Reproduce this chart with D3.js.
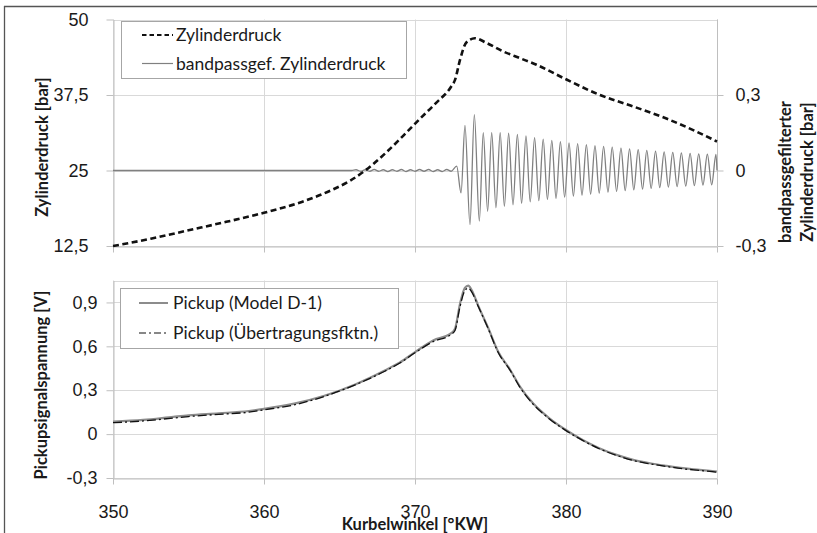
<!DOCTYPE html>
<html><head><meta charset="utf-8">
<script src="https://cdn.jsdelivr.net/npm/d3@7"></script>
<style>
body{margin:0;background:#fff;}
svg{font-family:Lato,"Open Sans",sans-serif;}
</style></head><body>
<svg id="c" width="817" height="533"></svg>
<script>
// ---------- data ----------
const xTicks = [350, 360, 370, 380, 390];
const topLeftTicks = [12.5, 25, 37.5, 50];
const topLeftLabels = ["12,5", "25", "37,5", "50"];
const topRightTicks = [-0.3, 0, 0.3];
const topRightLabels = ["-0,3", "0", "0,3"];
const botTicks = [-0.3, 0, 0.3, 0.6, 0.9];
const botLabels = ["-0,3", "0", "0,3", "0,6", "0,9"];

// Zylinderdruck [bar]
const pAngle = [350, 352.5, 355, 357.5, 360, 362.5, 364.6, 365.7, 366.7, 368.1, 369.2, 370.3, 371.4, 372.4, 372.65, 372.98, 373.4, 373.97, 374.75, 375.85, 376.95, 378.05, 380, 382.25, 384.45, 386.65, 388.5, 390];
const pValue = [12.5, 13.7, 15.1, 16.5, 18.0, 19.8, 21.9, 23.3, 25.0, 28.0, 30.7, 33.5, 36.2, 38.9, 40.0, 43.3, 46.2, 46.9, 46.1, 44.7, 43.6, 42.5, 40.1, 37.5, 35.6, 33.6, 31.6, 29.8];

// bandpassgef. Zylinderdruck [bar] (extremes of the oscillation)
const bpAngle = [350, 365.8, 366.1, 366.4, 366.7, 367.0, 367.3, 367.6, 367.9, 368.2, 368.5, 368.8, 369.1, 369.4, 369.7, 370.0, 370.3, 370.6, 370.9, 371.2, 371.5, 371.8, 372.1, 372.4, 372.76, 373.05,
  373.31, 373.64, 373.93, 374.26, 374.52, 374.81, 375.08, 375.36, 375.64, 375.92, 376.20, 376.49, 376.78, 377.06, 377.35, 377.63, 377.92, 378.20, 378.49, 378.77, 379.06, 379.34, 379.63, 379.91, 380.20, 380.49, 380.77, 381.06, 381.35, 381.63, 381.92, 382.20, 382.49, 382.78, 383.06, 383.35, 383.64, 383.92, 384.21, 384.49, 384.78, 385.07, 385.35, 385.64, 385.93, 386.21, 386.50, 386.78, 387.07, 387.36, 387.64, 387.93, 388.22, 388.50, 388.79, 389.07, 389.36, 389.65, 389.93, 390];
const bpValue = [0, 0, 0.003, -0.003, 0.003, -0.003, 0.004, -0.003, 0.003, -0.004, 0.003, -0.003, 0.004, -0.004, 0.003, -0.003, 0.004, -0.003, 0.004, -0.004, 0.003, -0.004, 0.004, -0.003, 0.017, -0.089,
  0.179, -0.215, 0.222, -0.201, 0.150, -0.162, 0.150, -0.148, 0.150, -0.142, 0.148, -0.136, 0.143, -0.130, 0.137, -0.125, 0.131, -0.120, 0.125, -0.115, 0.120, -0.111, 0.115, -0.106, 0.110, -0.102, 0.107, -0.098, 0.103, -0.094, 0.099, -0.090, 0.096, -0.086, 0.093, -0.083, 0.089, -0.080, 0.086, -0.077, 0.083, -0.074, 0.080, -0.071, 0.077, -0.068, 0.074, -0.066, 0.072, -0.064, 0.070, -0.062, 0.068, -0.060, 0.066, -0.058, 0.065, -0.057, 0.064, 0.0];

// Pickupsignalspannung [V]
const pkAngle = [350, 352, 354, 355, 357, 359, 360, 362, 364, 366, 368, 369, 370, 371.2, 372.4, 372.65, 372.98, 373.3, 373.53, 373.75, 374.2, 374.85, 375.5, 376.3, 376.95, 377.8, 378.9, 380, 381.1, 382.2, 383.35, 384.45, 385.55, 386.65, 387.75, 388.85, 390];
const pkModel = [0.085, 0.097, 0.118, 0.128, 0.142, 0.158, 0.172, 0.208, 0.262, 0.338, 0.435, 0.49, 0.56, 0.64, 0.69, 0.72, 0.89, 1.0, 1.015, 0.985, 0.875, 0.725, 0.565, 0.44, 0.325, 0.212, 0.108, 0.028, -0.04, -0.096, -0.142, -0.176, -0.199, -0.217, -0.233, -0.244, -0.256];
const pkTrans = [0.078, 0.09, 0.11, 0.12, 0.135, 0.15, 0.166, 0.2, 0.258, 0.335, 0.43, 0.486, 0.556, 0.632, 0.682, 0.708, 0.87, 0.98, 0.998, 0.972, 0.87, 0.72, 0.56, 0.436, 0.32, 0.207, 0.104, 0.024, -0.043, -0.1, -0.145, -0.18, -0.203, -0.221, -0.237, -0.248, -0.26];

// ---------- drawing ----------
const svg = d3.select("#c");
const gridC = "#d9d9d9", axisC = "#bfbfbf", textC = "#1a1a1a";
const tickFs = 18, legFs = 17.5, titleFs = 16.5;

// frame
svg.append("line").attr("x1",4.5).attr("x2",4.5).attr("y1",6).attr("y2",533).attr("stroke","#555").attr("stroke-width",1.3);
svg.append("line").attr("x1",4).attr("x2",817).attr("y1",6.5).attr("y2",6.5).attr("stroke","#555").attr("stroke-width",1.3);

const x = d3.scaleLinear().domain([350, 390]).range([113, 717]);
const yT = d3.scaleLinear().domain([12.5, 50]).range([246, 19.5]);
const yTR = d3.scaleLinear().domain([-0.3, 0.6]).range([246, 19.5]);
const yB = d3.scaleLinear().domain([-0.3, 1.05]).range([478, 280.5]);

function grid(yScale, ticks, yTop, yBot){
  const g = svg.append("g");
  ticks.forEach(t => g.append("line").attr("x1",113).attr("x2",717).attr("y1",Math.round(yScale(t))+0.5).attr("y2",Math.round(yScale(t))+0.5).attr("stroke",gridC));
  g.append("line").attr("x1",113).attr("x2",717).attr("y1",Math.round(yTop)+0.5).attr("y2",Math.round(yTop)+0.5).attr("stroke",gridC);
  xTicks.forEach(t => g.append("line").attr("x1",Math.round(x(t))+0.5).attr("x2",Math.round(x(t))+0.5).attr("y1",yTop).attr("y2",yBot).attr("stroke",gridC));
}
grid(yT, topLeftTicks, yT(50), yT(12.5));
grid(yB, botTicks, yB(1.05), yB(-0.3));

function styleAxis(g, fs){
  g.select(".domain").attr("stroke", axisC);
  g.selectAll(".tick line").attr("stroke", axisC);
  g.selectAll(".tick text").attr("fill", textC).style("font-size", fs+"px");
}

// top axes
const aTL = svg.append("g").attr("transform","translate(113.5,0)")
  .call(d3.axisLeft(yT).tickValues(topLeftTicks).tickFormat((d,i)=>topLeftLabels[i]).tickSize(7).tickPadding(18).tickSizeOuter(0));
styleAxis(aTL, tickFs);
const aTR = svg.append("g").attr("transform","translate(717.5,0)")
  .call(d3.axisRight(yTR).tickValues(topRightTicks).tickFormat((d,i)=>topRightLabels[i]).tickSize(6).tickPadding(12).tickSizeOuter(0));
styleAxis(aTR, tickFs);
aTR.select(".domain").attr("d", "M0," + yTR(0.6) + "V" + yTR(-0.3));
const aTB = svg.append("g").attr("transform","translate(0,246.5)")
  .call(d3.axisBottom(x).tickValues(xTicks).tickFormat("").tickSize(6).tickSizeOuter(0));
styleAxis(aTB, tickFs);

// bottom axes
const aBL = svg.append("g").attr("transform","translate(113.5,0)")
  .call(d3.axisLeft(yB).tickValues(botTicks).tickFormat((d,i)=>botLabels[i]).tickSize(7).tickPadding(9).tickSizeOuter(0));
styleAxis(aBL, tickFs);
const aBB = svg.append("g").attr("transform","translate(0,478.5)")
  .call(d3.axisBottom(x).tickValues(xTicks).tickSize(6).tickPadding(21).tickSizeOuter(0));
styleAxis(aBB, tickFs);

// lines top
const lineP = d3.line().x((d,i)=>x(pAngle[i])).y(d=>yT(d)).curve(d3.curveMonotoneX);
const lineBP = d3.line().x((d,i)=>x(bpAngle[i])).y(d=>yTR(d)).curve(d3.curveMonotoneX);
svg.append("path").attr("d", lineBP(bpValue)).attr("fill","none").attr("stroke","#808080").attr("stroke-width",1.3);
svg.append("path").attr("d", lineP(pValue)).attr("fill","none").attr("stroke","#111").attr("stroke-width",2.6).attr("stroke-dasharray","6,3.5");

// lines bottom
const linePK = arr => d3.line().x((d,i)=>x(pkAngle[i])).y(d=>yB(d)).curve(d3.curveMonotoneX)(arr);
svg.append("path").attr("d", linePK(pkModel)).attr("fill","none").attr("stroke","#8c8c8c").attr("stroke-width",2.2);
svg.append("path").attr("d", linePK(pkTrans)).attr("fill","none").attr("stroke","#111").attr("stroke-width",1.3).attr("stroke-dasharray","9,3,2,3");

// legends
function legend(x0, y0, w, h, items){
  const g = svg.append("g");
  g.append("rect").attr("x",x0+0.5).attr("y",y0+0.5).attr("width",w).attr("height",h).attr("fill","#fff").attr("stroke","#a6a6a6");
  items.forEach(it=>{
    g.append("line").attr("x1",it.lx1).attr("x2",it.lx2).attr("y1",it.y).attr("y2",it.y)
      .attr("stroke",it.color).attr("stroke-width",it.w).attr("stroke-dasharray",it.dash||null);
    g.append("text").attr("x",it.tx).attr("y",it.y).attr("dy","0.35em").attr("fill",textC).style("font-size",legFs+"px").text(it.label);
  });
}
legend(121, 21, 285, 57, [
  {label:"Zylinderdruck", y:35, lx1:142, lx2:173, tx:176, color:"#111", w:2.2, dash:"4.5,3"},
  {label:"bandpassgef. Zylinderdruck", y:63.5, lx1:142, lx2:173, tx:176, color:"#808080", w:1.2}
]);
legend(120, 288, 278, 60, [
  {label:"Pickup (Model D-1)", y:303, lx1:139, lx2:168, tx:173, color:"#8c8c8c", w:2},
  {label:"Pickup (Übertragungsfktn.)", y:333, lx1:139, lx2:168, tx:173, color:"#111", w:1.2, dash:"7,3,2,3"}
]);

// axis titles
function title(tx, ty, rot, txt){
  svg.append("text").attr("transform",`translate(${tx},${ty})` + (rot ? " rotate(-90)" : "")).attr("text-anchor","middle")
    .style("font-size",titleFs+"px").style("font-weight","bold").attr("fill",textC).text(txt);
}
title(48, 147, true, "Zylinderdruck [bar]");
title(47, 385, true, "Pickupsignalspannung [V]");
title(791, 172, true, "bandpassgefilterter");
title(813, 172, true, "Zylinderdruck [bar]");
title(415, 530, false, "Kurbelwinkel [°KW]");
</script>
</body></html>
